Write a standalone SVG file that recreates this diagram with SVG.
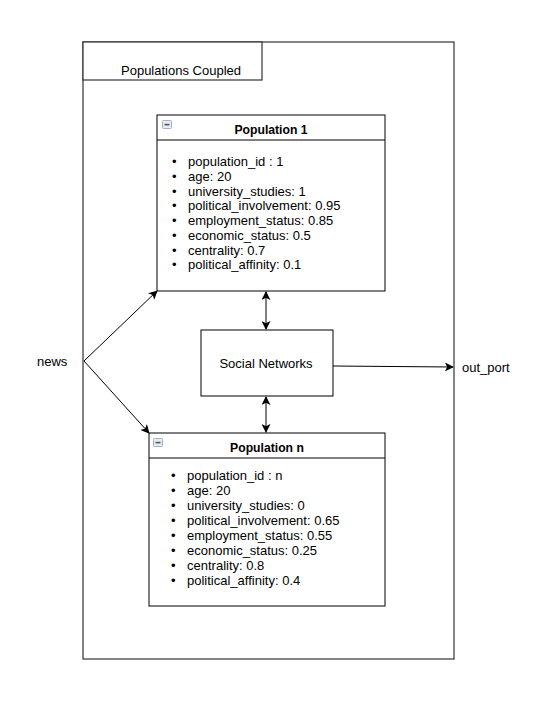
<svg xmlns="http://www.w3.org/2000/svg" width="547" height="718" viewBox="0 0 547 718">
  <style>
    text { font-family: "Liberation Sans", Arial, sans-serif; font-size: 13px; fill: #000; }
    .title { font-weight: bold; font-size: 12.2px; }
    .box { fill: #fff; stroke: #000; stroke-width: 1; }
    .outer { fill: #fff; stroke: #333; stroke-width: 1.2; }
    .edge { fill: none; stroke: #000; stroke-width: 1; }
  </style>
  <defs>
    <marker id="arrow" viewBox="0 0 10 10" refX="9" refY="5" markerWidth="9" markerHeight="9" markerUnits="userSpaceOnUse" orient="auto-start-reverse">
      <path d="M0,0 L10,5 L0,10 L2.5,5 Z" fill="#000"/>
    </marker>
    <g id="collapse">
      <rect x="0.5" y="0.5" width="9" height="8" rx="1" fill="#e6ecf2" stroke="#9fb2c6" stroke-width="1"/>
      <rect x="2.5" y="3.8" width="5" height="1.6" fill="#555"/>
    </g>
  </defs>

  <!-- container -->
  <g id="populations-coupled">
    <rect class="outer" x="83" y="42" width="371" height="617"/>
    <rect class="outer" x="83" y="42" width="179" height="38"/>
    <text x="181" y="75" text-anchor="middle">Populations Coupled</text>
  </g>

  <g id="population-1">
    <rect class="box" x="157" y="115" width="228" height="176"/>
    <line class="box" x1="157" y1="140" x2="385" y2="140"/>
    <use href="#collapse" x="162" y="120"/>
    <text class="title" x="271" y="134" text-anchor="middle">Population 1</text>
    <g>
      <text x="172" y="166">•</text><text x="188" y="166">population_id : 1</text>
      <text x="172" y="180.8">•</text><text x="188" y="180.8">age: 20</text>
      <text x="172" y="195.5">•</text><text x="188" y="195.5">university_studies: 1</text>
      <text x="172" y="210.3">•</text><text x="188" y="210.3">political_involvement: 0.95</text>
      <text x="172" y="225">•</text><text x="188" y="225">employment_status: 0.85</text>
      <text x="172" y="239.8">•</text><text x="188" y="239.8">economic_status: 0.5</text>
      <text x="172" y="254.6">•</text><text x="188" y="254.6">centrality: 0.7</text>
      <text x="172" y="269.4">•</text><text x="188" y="269.4">political_affinity: 0.1</text>
    </g>
  </g>

  <g id="social-networks">
    <rect class="box" x="201" y="330" width="132" height="66"/>
    <text x="266" y="368" text-anchor="middle">Social Networks</text>
  </g>

  <g id="population-n">
    <rect class="box" x="149" y="433" width="236" height="173"/>
    <line class="box" x1="149" y1="458" x2="385" y2="458"/>
    <use href="#collapse" x="153" y="438"/>
    <text class="title" x="267" y="452" text-anchor="middle">Population n</text>
    <g>
      <text x="171" y="479.5">•</text><text x="187" y="479.5">population_id : n</text>
      <text x="171" y="494.5">•</text><text x="187" y="494.5">age: 20</text>
      <text x="171" y="509.5">•</text><text x="187" y="509.5">university_studies: 0</text>
      <text x="171" y="524.5">•</text><text x="187" y="524.5">political_involvement: 0.65</text>
      <text x="171" y="539.5">•</text><text x="187" y="539.5">employment_status: 0.55</text>
      <text x="171" y="554.5">•</text><text x="187" y="554.5">economic_status: 0.25</text>
      <text x="171" y="569.5">•</text><text x="187" y="569.5">centrality: 0.8</text>
      <text x="171" y="584.5">•</text><text x="187" y="584.5">political_affinity: 0.4</text>
    </g>
  </g>

  <g id="ports">
    <text x="37" y="366">news</text>
    <text x="462" y="372">out_port</text>
  </g>

  <g id="connectors">
    <line class="edge" x1="84" y1="361" x2="157" y2="291" marker-end="url(#arrow)"/>
    <line class="edge" x1="84" y1="361" x2="149" y2="433" marker-end="url(#arrow)"/>
    <line class="edge" x1="266" y1="292" x2="266" y2="329" marker-start="url(#arrow)" marker-end="url(#arrow)"/>
    <line class="edge" x1="266" y1="397" x2="266" y2="432" marker-start="url(#arrow)" marker-end="url(#arrow)"/>
    <line class="edge" x1="333" y1="366" x2="453" y2="367" marker-end="url(#arrow)"/>
  </g>
</svg>
